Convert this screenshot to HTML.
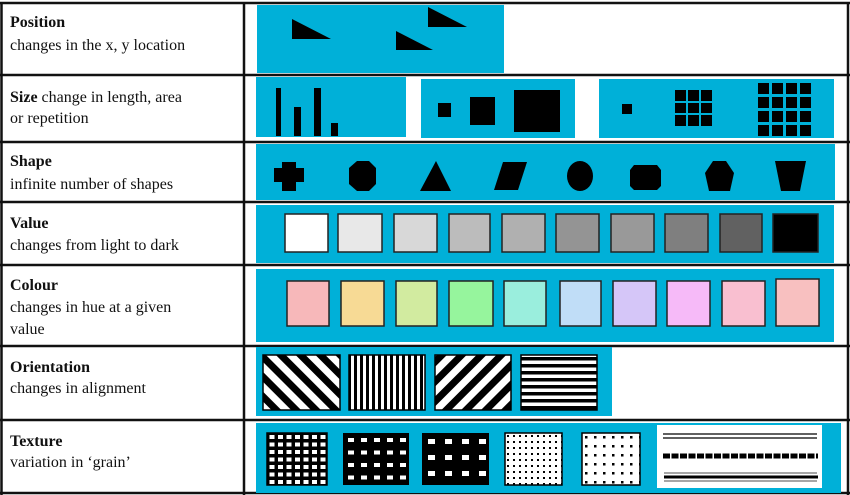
<!DOCTYPE html>
<html><head><meta charset="utf-8"><style>
html,body{margin:0;padding:0;background:#fff;}
svg{display:block;}
text{font-family:"Liberation Serif",serif;font-size:16px;fill:#111;}
.b{font-weight:bold;}
</style></head><body>
<svg width="850" height="495" viewBox="0 0 850 495" xmlns="http://www.w3.org/2000/svg">
<defs>
<pattern id="diag1" width="14" height="14" patternUnits="userSpaceOnUse" patternTransform="rotate(-45)"><rect width="14" height="14" fill="#fff"/><rect width="7" height="14" fill="#000"/></pattern>
<pattern id="diag2" width="14" height="14" patternUnits="userSpaceOnUse" patternTransform="rotate(45)"><rect width="14" height="14" fill="#fff"/><rect width="7" height="14" fill="#000"/></pattern>
<pattern id="vert" width="6" height="10" patternUnits="userSpaceOnUse"><rect width="6" height="10" fill="#fff"/><rect width="3" height="10" fill="#000"/></pattern>
<pattern id="horz" width="10" height="7" patternUnits="userSpaceOnUse"><rect width="10" height="7" fill="#fff"/><rect width="10" height="3.5" fill="#000"/></pattern>
<pattern id="g1" x="267" y="433" width="8.5" height="7.5" patternUnits="userSpaceOnUse"><rect width="8.5" height="7.5" fill="#000"/><rect x="2.5" y="2" width="5" height="4" fill="#fff"/></pattern>
<pattern id="g2" x="343" y="433" width="13" height="12.5" patternUnits="userSpaceOnUse"><rect width="13" height="12.5" fill="#000"/><rect x="5" y="5" width="6" height="4" fill="#fff"/></pattern>
<pattern id="g3" x="422" y="433" width="17" height="16" patternUnits="userSpaceOnUse"><rect width="17" height="16" fill="#000"/><rect x="6" y="6" width="7" height="5" fill="#fff"/></pattern>
<pattern id="d1" x="505" y="433" width="6" height="6" patternUnits="userSpaceOnUse"><rect width="6" height="6" fill="#fff"/><rect x="2" y="2" width="2" height="2" fill="#000"/></pattern>
<pattern id="d2" x="582" y="433" width="9" height="9" patternUnits="userSpaceOnUse"><rect width="9" height="9" fill="#fff"/><rect x="3" y="3" width="2.5" height="2.5" fill="#000"/></pattern>
</defs>
<rect width="850" height="495" fill="#fff"/>
<g stroke="#111" stroke-width="2.5" fill="none">
<line x1="0" y1="3" x2="850" y2="3"/>
<line x1="0" y1="75" x2="850" y2="75"/>
<line x1="0" y1="142" x2="850" y2="142"/>
<line x1="0" y1="202" x2="850" y2="202"/>
<line x1="0" y1="265" x2="850" y2="265"/>
<line x1="0" y1="346" x2="850" y2="346"/>
<line x1="0" y1="420" x2="850" y2="420"/>
<line x1="0" y1="493" x2="850" y2="493"/>
<line x1="1.5" y1="3" x2="1.5" y2="495"/>
<line x1="244" y1="3" x2="244" y2="495"/>
<line x1="848" y1="3" x2="848" y2="495"/>
</g>
<text x="10" y="27" class="b">Position</text><text x="10" y="50">changes in the x, y location</text>
<text x="10" y="102"><tspan class="b">Size</tspan> change in length, area</text><text x="10" y="123">or repetition</text>
<text x="10" y="166" class="b">Shape</text><text x="10" y="189">infinite number of shapes</text>
<text x="10" y="228" class="b">Value</text><text x="10" y="250">changes from light to dark</text>
<text x="10" y="290" class="b">Colour</text><text x="10" y="312">changes in hue at a given</text><text x="10" y="334">value</text>
<text x="10" y="372" class="b">Orientation</text><text x="10" y="393">changes in alignment</text>
<text x="10" y="446" class="b">Texture</text><text x="10" y="467">variation in ‘grain’</text>
<rect x="257" y="5" width="247" height="68" fill="#00b0d8"/>
<polygon points="292,19 292,39 331,39" fill="#000"/>
<polygon points="396,31 396,50 433,50" fill="#000"/>
<polygon points="428,7 428,27 467,27" fill="#000"/>
<rect x="256" y="77" width="150" height="60" fill="#00b0d8"/>
<rect x="276" y="88" width="5" height="48" fill="#000"/>
<rect x="294" y="107" width="7" height="29" fill="#000"/>
<rect x="314" y="88" width="7" height="48" fill="#000"/>
<rect x="331" y="123" width="7" height="13" fill="#000"/>
<rect x="421" y="79" width="154" height="59" fill="#00b0d8"/>
<rect x="438" y="103" width="13" height="14" fill="#000"/>
<rect x="470" y="97" width="25" height="28" fill="#000"/>
<rect x="514" y="90" width="46" height="42" fill="#000"/>
<rect x="599" y="79" width="235" height="59" fill="#00b0d8"/>
<rect x="622" y="104" width="10" height="10" fill="#000"/>
<g fill="#000">
<rect x="675" y="90" width="11" height="11"/><rect x="688" y="90" width="11" height="11"/><rect x="701" y="90" width="11" height="11"/>
<rect x="675" y="103" width="11" height="10"/><rect x="688" y="103" width="11" height="10"/><rect x="701" y="103" width="11" height="10"/>
<rect x="675" y="115" width="11" height="11"/><rect x="688" y="115" width="11" height="11"/><rect x="701" y="115" width="11" height="11"/>
<rect x="758" y="83" width="11" height="11"/><rect x="772" y="83" width="11" height="11"/><rect x="786" y="83" width="11" height="11"/><rect x="800" y="83" width="11" height="11"/>
<rect x="758" y="97" width="11" height="11"/><rect x="772" y="97" width="11" height="11"/><rect x="786" y="97" width="11" height="11"/><rect x="800" y="97" width="11" height="11"/>
<rect x="758" y="111" width="11" height="11"/><rect x="772" y="111" width="11" height="11"/><rect x="786" y="111" width="11" height="11"/><rect x="800" y="111" width="11" height="11"/>
<rect x="758" y="125" width="11" height="11"/><rect x="772" y="125" width="11" height="11"/><rect x="786" y="125" width="11" height="11"/><rect x="800" y="125" width="11" height="11"/>
</g>
<rect x="256" y="144" width="579" height="56" fill="#00b0d8"/>
<g fill="#000">
<polygon points="282,162 296,162 296,168 304,168 304,182 296,182 296,191 282,191 282,182 274,182 274,168 282,168"/>
<polygon points="357,161 369,161 376,168 376,184 369,191 357,191 349,184 349,168"/>
<polygon points="436,161 451,191 420,191"/>
<polygon points="503,162 527,162 518,190 494,190"/>
<ellipse cx="580" cy="176" rx="13" ry="15"/>
<polygon points="634,165 657,165 661,170 661,186 657,190 634,190 630,186 630,170"/>
<polygon points="713,161 726,161 734,173 730,191 709,191 705,173"/>
<polygon points="775,161 806,161 800,191 781,191"/>
</g>
<rect x="256" y="205" width="578" height="58" fill="#00b0d8"/>
<g stroke="#222" stroke-width="1.5">
<rect x="285" y="214" width="43" height="38" fill="#ffffff"/>
<rect x="338" y="214" width="44" height="38" fill="#e8e8e8"/>
<rect x="394" y="214" width="43" height="38" fill="#d8d8d8"/>
<rect x="449" y="214" width="41" height="38" fill="#bcbcbc"/>
<rect x="502" y="214" width="43" height="38" fill="#b0b0b0"/>
<rect x="556" y="214" width="43" height="38" fill="#949494"/>
<rect x="611" y="214" width="43" height="38" fill="#999999"/>
<rect x="665" y="214" width="43" height="38" fill="#7f7f7f"/>
<rect x="720" y="214" width="42" height="38" fill="#616161"/>
<rect x="773" y="214" width="45" height="38" fill="#000000"/>
</g>
<rect x="256" y="269" width="578" height="73" fill="#00b0d8"/>
<g stroke="#222" stroke-width="1.5">
<rect x="287" y="281" width="42" height="45" fill="#f7b8ba"/>
<rect x="341" y="281" width="43" height="45" fill="#f7da95"/>
<rect x="396" y="281" width="41" height="45" fill="#d2eba0"/>
<rect x="449" y="281" width="44" height="45" fill="#96f59d"/>
<rect x="504" y="281" width="42" height="45" fill="#9aeedd"/>
<rect x="560" y="281" width="41" height="45" fill="#c0ddf7"/>
<rect x="613" y="281" width="43" height="45" fill="#d5c6f8"/>
<rect x="667" y="281" width="43" height="45" fill="#f6baf8"/>
<rect x="722" y="281" width="43" height="45" fill="#f9bfd0"/>
<rect x="776" y="279" width="43" height="47" fill="#f8c0c0"/>
</g>
<rect x="256" y="347" width="356" height="69" fill="#00b0d8"/>
<g stroke="#000" stroke-width="1.5">
<rect x="263" y="355" width="77" height="55" fill="url(#diag1)"/>
<rect x="349" y="355" width="76" height="55" fill="url(#vert)"/>
<rect x="435" y="355" width="76" height="55" fill="url(#diag2)"/>
<rect x="521" y="355" width="76" height="55" fill="url(#horz)"/>
</g>
<rect x="256" y="423" width="585" height="70" fill="#00b0d8"/>
<rect x="267" y="433" width="60" height="52" fill="url(#g1)" stroke="#000" stroke-width="1.5"/>
<rect x="343" y="433" width="66" height="52" fill="url(#g2)"/>
<rect x="422" y="433" width="67" height="52" fill="url(#g3)"/>
<rect x="505" y="433" width="57" height="52" fill="url(#d1)" stroke="#000" stroke-width="1.5"/>
<rect x="582" y="433" width="58" height="52" fill="url(#d2)" stroke="#000" stroke-width="1.5"/>
<rect x="657" y="425" width="165" height="63" fill="#fff"/>
<line x1="663" y1="434" x2="817" y2="434" stroke="#000" stroke-width="1.2"/>
<line x1="663" y1="438" x2="817" y2="438" stroke="#000" stroke-width="1.2"/>
<line x1="663" y1="456" x2="818" y2="456" stroke="#000" stroke-width="5" stroke-dasharray="7 1.5"/>
<line x1="664" y1="473" x2="817" y2="473" stroke="#888" stroke-width="1.5"/>
<line x1="664" y1="477" x2="818" y2="477" stroke="#000" stroke-width="3"/>
<line x1="664" y1="481" x2="817" y2="481" stroke="#888" stroke-width="1.5"/>
</svg>
</body></html>
